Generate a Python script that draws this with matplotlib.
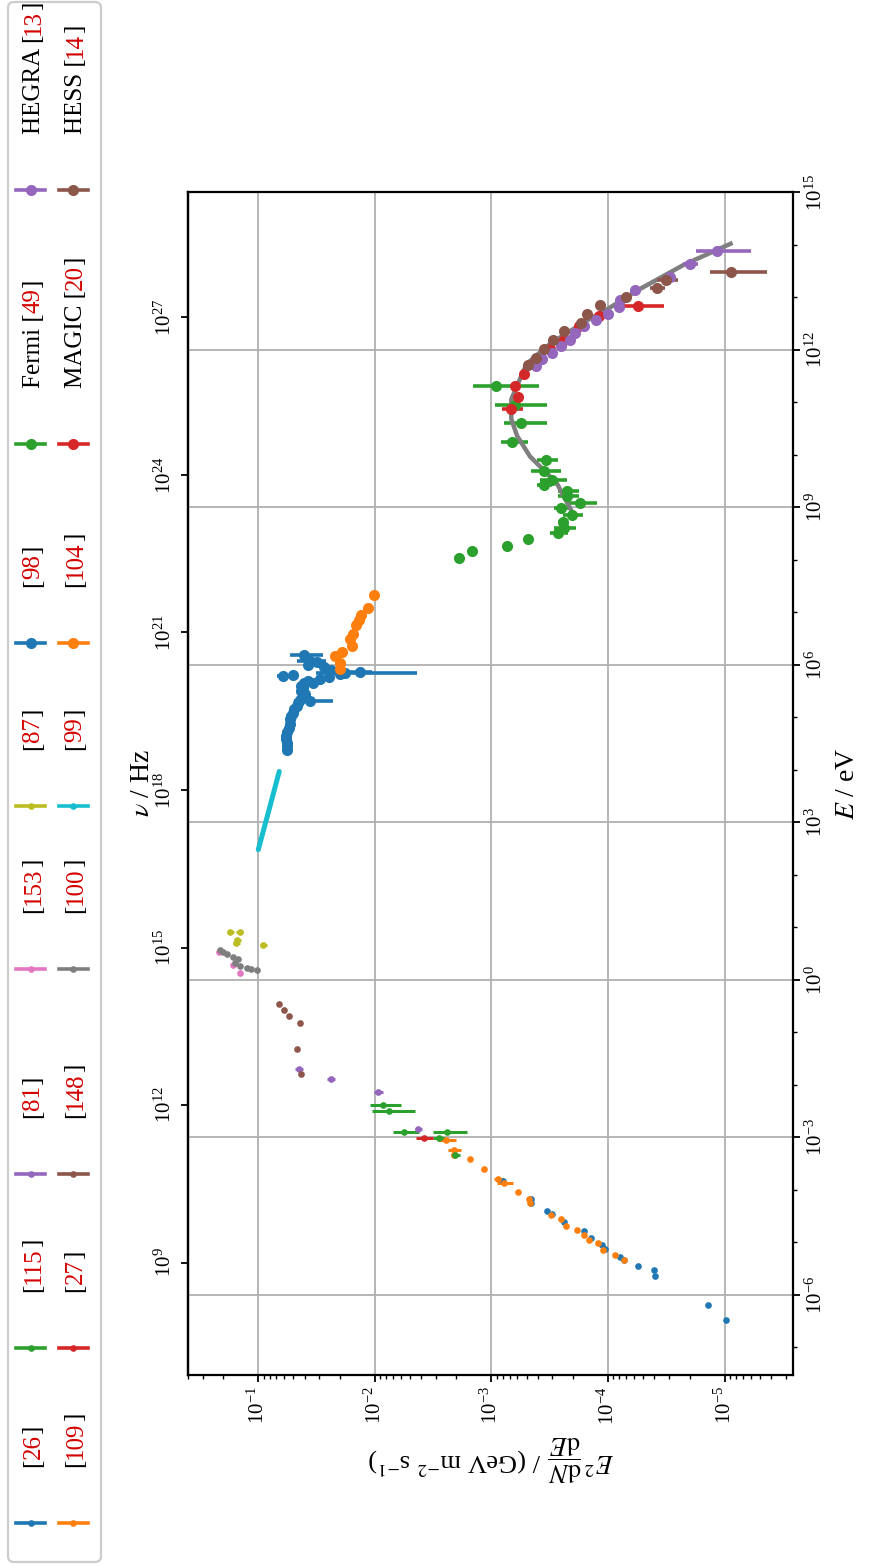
import numpy as np
import matplotlib
matplotlib.use("Agg")
import matplotlib.pyplot as plt
from matplotlib.lines import Line2D
from matplotlib.patches import FancyBboxPatch
from matplotlib.ticker import FixedLocator, NullLocator, NullFormatter, LogFormatterSciNotation

plt.rcParams['font.family'] = ['Liberation Serif', 'DejaVu Serif']
plt.rcParams['mathtext.fontset'] = 'stix'

W, H, DPI = 870, 1566, 100
H_PLANCK = 4.135667696e-15  # eV s

# ---------------- data: log10(E / eV), log10(E^2 dN/dE / GeV m^-2 s^-1), relative flux error
ref26_logE = [-6.47, -6.20, -5.63, -5.53, -5.44, -5.33, -5.28, -5.12, -5.05, -4.91, -4.79, -4.61, -4.46, -4.41, -4.25, -4.18, -3.83]
ref26_logF = [-5.01, -4.86, -4.40, -4.39, -4.26, -4.14, -4.10, -3.97, -3.95, -3.85, -3.79, -3.62, -3.52, -3.48, -3.34, -3.34, -3.10]
ref26_rel = [0.0] * 17

ref109_logE = [-5.34, -5.24, -5.14, -5.02, -4.95, -4.86, -4.77, -4.68, -4.56, -4.47, -4.25, -4.18, -4.03, -3.86, -3.79, -3.60, -3.41, -3.34, -3.23, -3.04]
ref109_logF = [-4.14, -4.06, -3.96, -3.91, -3.84, -3.79, -3.73, -3.64, -3.60, -3.51, -3.33, -3.32, -3.23, -3.11, -3.06, -2.94, -2.82, -2.68, -2.68, -2.61]
ref109_rel = [0, 0, 0, 0, 0, 0, 0, 0, 0, 0, 0, 0, 0, 0.15, 0.10, 0, 0, 0.06, 0.13, 0.18]

ref115_logE = [-2.38, -2.50, -2.90, -2.90, -3.01, -3.34]
ref115_logF = [-2.07, -2.12, -2.25, -2.62, -2.55, -2.69]
ref115_rel = [0.30, 0.40, 0.25, 0.33, 0.12, 0.09]

ref27_logE = [-3.02]
ref27_logF = [-2.42]
ref27_rel = [0.16]

ref81_logE = [-1.69, -1.88, -2.14, -2.83]
ref81_logF = [-1.35, -1.62, -2.03, -2.37]
ref81_rel = [0.08, 0.08, 0.08, 0.07]

ref148_logE = [-0.46, -0.57, -0.68, -0.83, -1.32, -1.79]
ref148_logF = [-1.18, -1.22, -1.26, -1.36, -1.33, -1.37]
ref148_rel = [0.0] * 6

ref153_logE = [0.53, 0.29, 0.13]
ref153_logF = [-0.66, -0.785, -0.84]
ref153_rel = [0.0] * 3

ref100_logE = [0.57, 0.53, 0.49, 0.44, 0.39, 0.32, 0.27, 0.23, 0.21, 0.19]
ref100_logF = [-0.67, -0.70, -0.73, -0.785, -0.83, -0.80, -0.84, -0.90, -0.94, -0.985]
ref100_rel = [0.0] * 10

ref87_logE = [0.92, 0.92, 0.76, 0.70, 0.67]
ref87_logF = [-0.76, -0.84, -0.82, -0.81, -1.04]
ref87_rel = [0.07] * 5

ref99_logE = [2.48, 3.22, 3.97]
ref99_logF = [-1.00, -1.09, -1.18]

ref98_logE = [4.38, 4.45, 4.52, 4.58, 4.64, 4.72, 4.80, 4.88, 4.96, 5.02, 5.09, 5.15, 5.22, 5.28, 5.31, 5.34,
              5.40, 5.44, 5.50, 5.56, 5.60, 5.66, 5.66, 5.70, 5.73, 5.76, 5.78, 5.80, 5.82, 5.85, 5.87, 5.90,
              5.95, 6.00, 6.05, 6.08, 6.18]
ref98_logF = [-1.25, -1.25, -1.25, -1.24, -1.24, -1.25, -1.26, -1.27, -1.27, -1.28, -1.30, -1.31, -1.33, -1.34, -1.44, -1.36,
              -1.38, -1.40, -1.37, -1.38, -1.37, -1.39, -1.47, -1.43, -1.53, -1.61, -1.21, -1.30, -1.70, -1.74, -1.87, -1.62,
              -1.56, -1.43, -1.50, -1.44, -1.39]
ref98_rel = [0, 0, 0, 0, 0, 0, 0, 0, 0, 0, 0, 0, 0, 0, 0.37, 0,
             0, 0, 0, 0, 0, 0, 0, 0, 0, 0, 0.12, 0, 0, 0.76, 0.21, 0,
             0, 0, 0, 0.28, 0.31]

ref104_logE = [5.93, 6.04, 6.16, 6.25, 6.36, 6.49, 6.59, 6.75, 6.85, 6.95, 7.08, 7.34]
ref104_logF = [-1.70, -1.70, -1.66, -1.72, -1.80, -1.79, -1.81, -1.84, -1.86, -1.88, -1.94, -1.99]
ref104_rel = [0.0] * 12

fermi_logE = [8.03, 8.16, 8.27, 8.39, 8.51, 8.61, 8.73, 8.86, 8.99, 9.08, 9.21, 9.32, 9.43, 9.53, 9.69, 9.91, 10.25, 10.60, 10.94, 11.31]
fermi_logF = [-2.725, -2.83, -3.13, -3.31, -3.57, -3.62, -3.61, -3.69, -3.60, -3.76, -3.65, -3.65, -3.45, -3.52, -3.45, -3.47, -3.18, -3.25, -3.20, -3.04]
fermi_rel = [0, 0, 0.04, 0.04, 0.18, 0.22, 0.10, 0.20, 0.15, 0.28, 0.20, 0.20, 0.15, 0.26, 0.29, 0.20, 0.26, 0.40, 0.47, 0.57]

magic_logE = [10.88, 11.10, 11.31, 11.54, 11.77, 12.01, 12.19, 12.46, 12.65, 12.84]
magic_logF = [-3.17, -3.23, -3.20, -3.28, -3.37, -3.50, -3.62, -3.75, -3.92, -4.26]
magic_rel = [0.20, 0, 0, 0, 0, 0, 0, 0, 0.05, 0.40]

hegra_logE = [11.69, 11.82, 11.94, 12.08, 12.19, 12.32, 12.45, 12.57, 12.69, 12.82, 12.94, 13.13, 13.38, 13.64, 13.88]
hegra_logF = [-3.38, -3.43, -3.52, -3.60, -3.67, -3.72, -3.79, -3.90, -4.00, -4.09, -4.10, -4.23, -4.53, -4.70, -4.93]
hegra_rel = [0, 0, 0, 0, 0, 0, 0, 0, 0, 0, 0, 0.05, 0.10, 0.15, 0.49]

hess_logE = [11.71, 11.85, 12.01, 12.19, 12.36, 12.51, 12.69, 12.86, 13.01, 13.17, 13.33, 13.49]
hess_logF = [-3.31, -3.38, -3.45, -3.53, -3.62, -3.77, -3.82, -3.93, -4.15, -4.42, -4.50, -5.05]
hess_rel = [0, 0, 0, 0, 0, 0, 0, 0, 0.05, 0.15, 0.20, 0.51]

fit_logE = [8.96, 9.46, 9.97, 10.36, 10.68, 11.06, 11.73, 12.11, 12.52, 12.81, 13.13, 13.62, 14.02]
fit_logF = [-3.68, -3.56, -3.33, -3.22, -3.17, -3.17, -3.30, -3.50, -3.79, -4.02, -4.25, -4.65, -5.05]

# legend texts: (prefix, citation number)
legend_labels = [("", "26"), ("", "109"), ("", "115"), ("", "27"), ("", "81"), ("", "148"),
                 ("", "153"), ("", "100"), ("", "87"), ("", "99"), ("", "98"), ("", "104"),
                 ("Fermi ", "49"), ("MAGIC ", "20"), ("HEGRA ", "13"), ("HESS ", "14")]

CITE_RED = '#d40000'
SMALL_MS, LARGE_MS = 4.8, 8.0

series = [
    (ref26_logE, ref26_logF, ref26_rel, 'C0', SMALL_MS),
    (ref109_logE, ref109_logF, ref109_rel, 'C1', SMALL_MS),
    (ref115_logE, ref115_logF, ref115_rel, 'C2', SMALL_MS),
    (ref27_logE, ref27_logF, ref27_rel, 'C3', SMALL_MS),
    (ref81_logE, ref81_logF, ref81_rel, 'C4', SMALL_MS),
    (ref148_logE, ref148_logF, ref148_rel, 'C5', SMALL_MS),
    (ref153_logE, ref153_logF, ref153_rel, 'C6', SMALL_MS),
    (ref100_logE, ref100_logF, ref100_rel, 'C7', SMALL_MS),
    (ref87_logE, ref87_logF, ref87_rel, 'C8', SMALL_MS),
    (ref99_logE, ref99_logF, None, 'C9', SMALL_MS),
    (ref98_logE, ref98_logF, ref98_rel, 'C0', LARGE_MS),
    (ref104_logE, ref104_logF, ref104_rel, 'C1', LARGE_MS),
    (fermi_logE, fermi_logF, fermi_rel, 'C2', LARGE_MS),
    (magic_logE, magic_logF, magic_rel, 'C3', LARGE_MS),
    (hegra_logE, hegra_logF, hegra_rel, 'C4', LARGE_MS),
    (hess_logE, hess_logF, hess_rel, 'C5', LARGE_MS),
]

# ---------------- figure & axes (chart drawn rotated by 90 degrees)
fig = plt.figure(figsize=(W / DPI, H / DPI), dpi=DPI)
L, R, T, B = 187.6, 793.5, 192.3, 1374.5
ax = fig.add_axes([L / W, 1 - B / H, (R - L) / W, (B - T) / H])
ax.set_xscale('log')
ax.set_yscale('log')
ax.set_xlim(10 ** -0.394, 10 ** -5.590)
ax.set_ylim(10 ** -7.515, 10 ** 15.0)

for i, (lE, lF, rel, col, ms) in enumerate(series):
    E = 10 ** np.asarray(lE)
    F = 10 ** np.asarray(lF)
    if rel is None:
        ax.plot(F, E, color=col, lw=3.6, solid_capstyle='round', zorder=3)
        continue
    ax.errorbar(F, E, xerr=F * np.asarray(rel), fmt='o', color=col, ms=ms, mew=0,
                elinewidth=2.6 if ms == LARGE_MS else 2.2, capsize=0, zorder=3)
    if col == 'C2' and ms == LARGE_MS:
        ax.plot(10 ** np.asarray(fit_logF), 10 ** np.asarray(fit_logE), color='C7', lw=3.2, zorder=3)

ax.set_axisbelow(True)
ax.grid(True, which='major', color='#b0b0b0', lw=1.3)
for sp in ax.spines.values():
    sp.set_linewidth(1.6)

ax.yaxis.set_major_locator(FixedLocator(10.0 ** np.arange(-6, 16, 3)))
ax.yaxis.set_minor_locator(FixedLocator(10.0 ** np.arange(-7, 16)))
ax.yaxis.set_major_formatter(LogFormatterSciNotation())
ax.yaxis.set_minor_formatter(NullFormatter())
ax.yaxis.tick_right()
ax.yaxis.set_label_position('right')
ax.tick_params(axis='both', which='major', labelrotation=90, labelsize=15, width=1.3, length=5)
ax.tick_params(axis='both', which='minor', width=1.0, length=3)

ax.set_ylabel(r'$E$ / eV', fontsize=20, rotation=90, labelpad=6)
ax.set_xlabel(r'$E^2\,\dfrac{\mathrm{d}N}{\mathrm{d}E}$ / (GeV m$^{-2}$ s$^{-1}$)',
              fontsize=19, rotation=180, labelpad=6)

sec = ax.secondary_yaxis('left', functions=(lambda e: e / H_PLANCK, lambda n: n * H_PLANCK))
sec.set_yticks(10.0 ** np.arange(9, 28, 3))
sec.yaxis.set_minor_locator(NullLocator())
sec.tick_params(axis='y', which='major', labelrotation=90, labelsize=15, width=1.3, length=5)
sec.spines['left'].set_linewidth(1.6)
sec.set_ylabel(r'$\nu$ / Hz', fontsize=20, rotation=90, labelpad=0)

# ---------------- legend (drawn rotated, as in the reference)
tr = fig.dpi_scale_trans
LEG_X0, LEG_X1, LEG_Y0, LEG_Y1 = 8, 101, 2, 1562
fig.add_artist(FancyBboxPatch(((LEG_X0) / DPI, (H - LEG_Y1) / DPI), (LEG_X1 - LEG_X0) / DPI,
                              (LEG_Y1 - LEG_Y0) / DPI, boxstyle='round,pad=0,rounding_size=0.06',
                              transform=tr, facecolor='white', edgecolor='#cccccc', lw=1.6, zorder=1))
LEG_COL_HANDLE_X = [30.5, 73.0]
LEG_COL_TEXT_X = [33.5, 75.5]
LEG_ROW_Y = [1523, 1348, 1174, 969, 806, 643, 444, 190]
HANDLE_HALF = 14.5
TEXT_OFFSET = 56

renderer = fig.canvas.get_renderer()
for i, ((prefix, num), (_, _, _, col, ms)) in enumerate(zip(legend_labels, series)):
    c, r = i % 2, i // 2
    hx, hy = LEG_COL_HANDLE_X[c], LEG_ROW_Y[r]
    fig.add_artist(Line2D([(hx - HANDLE_HALF) / DPI, (hx + HANDLE_HALF) / DPI], [(H - hy) / DPI] * 2,
                          transform=tr, color=col, lw=2.6, zorder=2))
    fig.add_artist(Line2D([hx / DPI], [(H - hy) / DPI], transform=tr, color=col, ls='none',
                          marker='o', ms=ms, mew=0, zorder=2))
    ty = hy - TEXT_OFFSET
    for s, tc in [(prefix + '[', 'black'), (num, CITE_RED), (']', 'black')]:
        t = fig.text(LEG_COL_TEXT_X[c] / DPI, (H - ty) / DPI, s, transform=tr, rotation=90,
                     ha='center', va='bottom', color=tc, fontsize=18, zorder=3)
        bb = t.get_window_extent(renderer)
        ty -= bb.height

fig.canvas.draw()
for lab in ax.get_yticklabels() + sec.get_yticklabels():
    lab.set_verticalalignment('center')

fig.savefig('out.png', dpi=DPI)
